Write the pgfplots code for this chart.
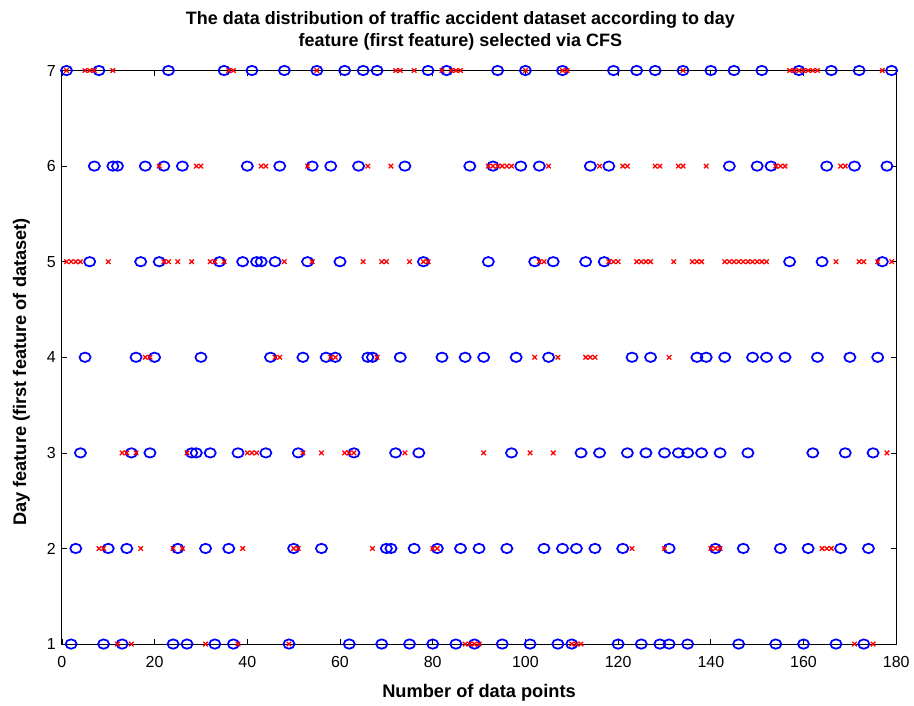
\documentclass[border=0pt]{standalone}
\usepackage{pgfplots}
\pgfplotsset{compat=1.18}
\usepackage{fontspec}
\setmainfont{Liberation Sans}
\begin{document}
\begin{tikzpicture}
\begin{axis}[
  width=627pt, height=431pt, scale only axis,
  xmin=0, xmax=180, ymin=1, ymax=7,
  xtick={0,20,...,180}, ytick={1,2,...,7},
  tick align=inside, major tick length=4pt,
  tick style={black, line width=0.5pt},
  axis line style={black, line width=0.7pt},
  clip=false,
  /pgf/number format/assume math mode=true,
  ticklabel style={font=\fontsize{12}{14}\selectfont},
  xticklabel style={yshift=-6pt},
  yticklabel style={xshift=-1pt},
  xlabel={\bfseries Number of data points},
  ylabel={\bfseries Day feature (first feature of dataset)},
  label style={font=\fontsize{13.7}{16}\selectfont},
  xlabel style={yshift=-5.5pt},
  ylabel style={yshift=6pt, xshift=-11pt},
  title={\bfseries The data distribution of traffic accident dataset according to day\\\bfseries feature (first feature) selected via CFS},
  title style={font=\fontsize{13.5}{16}\selectfont, align=center, yshift=6pt, xshift=-14pt},
]
\addplot[only marks, mark=o, mark size=4.1pt, draw=blue, mark options={line width=1.3pt, xscale=1.02, yscale=0.86}] table {
x y
1 7
8 7
23 7
35 7
41 7
48 7
55 7
61 7
65 7
68 7
79 7
83 7
94 7
100 7
108 7
119 7
124 7
128 7
134 7
140 7
145 7
151 7
159 7
166 7
172 7
179 7
7 6
11 6
12 6
18 6
22 6
26 6
40 6
47 6
54 6
58 6
64 6
74 6
88 6
93 6
99 6
103 6
114 6
118 6
144 6
150 6
153 6
165 6
171 6
178 6
6 5
17 5
21 5
34 5
39 5
42 5
43 5
46 5
53 5
60 5
78 5
92 5
102 5
106 5
113 5
117 5
157 5
164 5
177 5
5 4
16 4
20 4
30 4
45 4
52 4
57 4
59 4
66 4
67 4
73 4
82 4
87 4
91 4
98 4
105 4
123 4
127 4
137 4
139 4
143 4
149 4
152 4
156 4
163 4
170 4
176 4
4 3
15 3
19 3
28 3
29 3
32 3
38 3
44 3
51 3
63 3
72 3
77 3
97 3
112 3
116 3
122 3
126 3
130 3
133 3
135 3
138 3
142 3
148 3
162 3
169 3
175 3
3 2
10 2
14 2
25 2
31 2
36 2
50 2
56 2
70 2
71 2
76 2
81 2
86 2
90 2
96 2
104 2
108 2
111 2
115 2
121 2
131 2
141 2
147 2
155 2
161 2
168 2
174 2
2 1
9 1
13 1
24 1
27 1
33 1
37 1
49 1
62 1
69 1
75 1
80 1
85 1
89 1
95 1
101 1
107 1
110 1
120 1
125 1
129 1
131 1
135 1
146 1
154 1
160 1
167 1
173 1
};
\addplot[only marks, mark=x, mark size=2.4pt, draw=red, mark options={line width=0.95pt}] table {
x y
1 7
5 7
6 7
7 7
11 7
36 7
37 7
55 7
72 7
73 7
76 7
82 7
84 7
85 7
86 7
100 7
108 7
109 7
134 7
157 7
158 7
159 7
160 7
161 7
162 7
163 7
177 7
21 6
29 6
30 6
43 6
44 6
53 6
66 6
71 6
92 6
93 6
94 6
95 6
96 6
97 6
105 6
116 6
121 6
122 6
128 6
129 6
133 6
134 6
139 6
154 6
155 6
156 6
168 6
169 6
1 5
2 5
3 5
4 5
10 5
22 5
23 5
25 5
28 5
32 5
33 5
35 5
48 5
54 5
65 5
69 5
70 5
75 5
78 5
79 5
103 5
104 5
118 5
119 5
120 5
124 5
125 5
126 5
127 5
132 5
136 5
137 5
138 5
143 5
144 5
145 5
146 5
147 5
148 5
149 5
150 5
151 5
152 5
167 5
172 5
173 5
176 5
179 5
18 4
19 4
46 4
47 4
58 4
59 4
68 4
102 4
107 4
113 4
114 4
115 4
131 4
13 3
14 3
16 3
27 3
40 3
41 3
42 3
52 3
56 3
61 3
62 3
63 3
74 3
91 3
101 3
106 3
178 3
8 2
9 2
17 2
24 2
26 2
39 2
50 2
51 2
67 2
80 2
81 2
123 2
130 2
140 2
141 2
142 2
164 2
165 2
166 2
12 1
15 1
31 1
38 1
49 1
87 1
88 1
89 1
90 1
110 1
111 1
112 1
171 1
175 1
};
\end{axis}
\path[use as bounding box] ([xshift=-46.5pt,yshift=-40.5pt]current axis.south west) rectangle ([xshift=12pt,yshift=53pt]current axis.north east);
\end{tikzpicture}
\end{document}
